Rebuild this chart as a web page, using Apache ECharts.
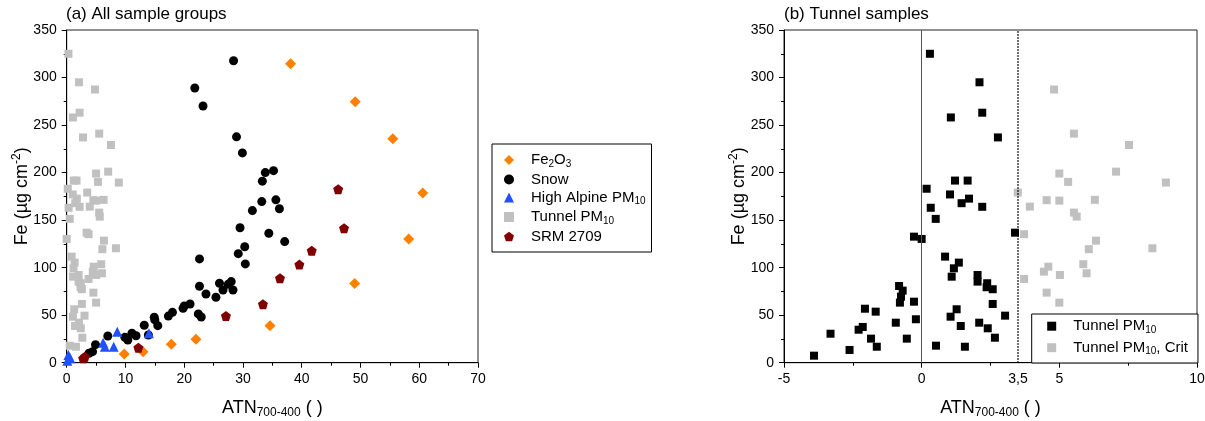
<!DOCTYPE html>
<html>
<head>
<meta charset="utf-8">
<script src="https://cdn.jsdelivr.net/npm/echarts@6/dist/echarts.min.js"></script>
<style>
html,body{margin:0;padding:0;background:#fff;}
#c{width:1205px;height:421px;}
</style>
</head>
<body>
<div id="c"></div>
<script>
// ---------- data ----------
const fe2o3X = [9.8, 13.0, 17.8, 22.0, 34.6, 49.0, 58.2, 60.6, 55.5, 49.1, 38.1];
const fe2o3Y = [9.2, 11.6, 19.3, 24.6, 39.0, 83.2, 130.2, 178.6, 235.5, 274.4, 314.4];

const snowX = [28.4, 21.8, 23.2, 28.9, 29.9, 33.8, 35.2, 33.3, 33.2, 35.6, 36.2, 31.6, 29.5, 34.4, 37.1, 30.3,
  29.2, 22.6, 30.4, 22.6, 23.7, 25.4, 26.0, 26.6, 27.5, 28.0, 28.3, 20.0, 19.8, 21.0, 22.4, 22.9, 18.0, 17.3,
  14.9, 15.0, 15.5, 13.2, 11.1, 11.8, 9.9, 10.4, 13.9, 7.0, 4.9, 4.4, 3.8];
const snowY = [317.6, 289, 270, 237.6, 220.7, 200, 202, 191, 169.5, 171.3, 162, 160, 142, 136.2, 127.4, 122,
  114.7, 109.2, 103.9, 80.4, 72.3, 68.8, 83.6, 76.5, 82.5, 85.3, 76.5, 59.7, 57.2, 61.8, 51.3, 48.1, 53, 49,
  47.8, 45, 39, 39.4, 31, 28.4, 26.7, 23.9, 29.2, 28.1, 19, 11.6, 9.9];

const alpineX = [0.1, 0.3, 0.6, 6.2, 6.5, 8.0, 8.6, 14.0];
const alpineY = [2.0, 8.0, 4.6, 21.0, 16.8, 16.8, 32.6, 30.9];

const srmX = [2.8, 3.1, 12.2, 27.1, 33.4, 36.3, 39.6, 41.7, 47.2, 46.2];
const srmY = [4.6, 6.3, 15.8, 49.2, 61.5, 88.8, 103.2, 117.9, 141.5, 182.5];

// Tunnel PM10 samples (below the ATN criterion)
const tunnelX = [-3.91, -3.31, -2.62, -2.29, -2.14, -2.06, -1.84, -1.63, -1.67, -0.94, -0.82, -0.69, -0.75, -0.79,
  -0.54, -0.28, -0.21, -0.28, 0.0, 0.33, 0.51, 0.18, 0.3, 2.1, 2.2, 1.06, 2.77, 1.21, 1.67, 1.03, 1.72, 1.45,
  2.2, 3.39, 0.85, 1.35, 1.17, 1.09, 2.03, 2.03, 2.38, 2.36, 2.58, 2.58, 1.27, 1.05, 3.03, 1.42, 2.09, 2.40,
  2.66, 0.52, 1.57];
const tunnelY = [7.4, 30.5, 13.4, 34.7, 37.6, 56.8, 25.3, 16.8, 53.7, 42.1, 80.7, 75.8, 69.5, 63.2,
  25.3, 64.2, 45.7, 132.6, 130.2, 163, 151.3, 183, 325, 295, 263, 258, 237, 191.6, 191.6, 177, 172.6, 167.8,
  164, 136.8, 111.6, 105.3, 99.3, 90.5, 92.3, 85.3, 83.6, 79.4, 77.3, 61.8, 56.2, 48.4, 49.5, 38.6, 42.1, 36.2,
  26.3, 17.9, 16.8];
// Tunnel PM10 samples above the criterion
const critX = [3.49, 3.93, 4.54, 4.81, 5.53, 7.53, 5.0, 7.06, 5.32, 8.87, 5.0, 6.29, 5.53, 5.63, 3.72, 6.33,
  6.07, 8.38, 5.87, 5.99, 4.44, 4.6, 5.02, 3.72, 4.54, 5.0];
const critY = [179, 164.2, 171, 287.4, 241, 229, 199, 201, 190.2, 189.5, 170.5, 171.3, 157.9, 153.7, 135.2, 128.4,
  119.4, 120.4, 103.6, 94.1, 95.8, 101, 92.3, 88.1, 73.7, 63.2];

const critLimit = 3.5;

const leftXTicks = {min: 0, max: 70, interval: 10};
const rightXTicks = {min: -5, max: 10, interval: 5};
const yTicks = {min: 0, max: 350, interval: 50};

// ---------- chart ----------
const pair = (xs, ys) => xs.map((x, i) => [x, ys[i]]);
const FONT = '"Liberation Sans", Arial, sans-serif';
const pentagon = 'path://M0,-10 L9.51,-3.09 L5.88,8.09 L-5.88,8.09 L-9.51,-3.09 Z';

const labelRich = {
  g: {width: 12},
  n: {fontSize: 15, lineHeight: 18, color: '#000', fontFamily: FONT},
  s: {fontSize: 10, verticalAlign: 'bottom', color: '#000', fontFamily: FONT}
};
const names = {
  Fe2O3: '{g| }{n|Fe}{s|2}{n|O}{s|3}',
  Snow: '{g| }{n|Snow}',
  HighAlpine: '{g| }{n|High Alpine PM}{s|10}',
  Tunnel: '{g| }{n|Tunnel PM}{s|10}',
  SRM: '{g| }{n|SRM 2709}',
  TunnelB: '{g| }{n|Tunnel PM}{s|10}',
  TunnelCrit: '{g| }{n|Tunnel PM}{s|10}{n|, Crit}'
};

const axisNameRich = {
  a: {fontSize: 18, lineHeight: 22, color: '#000', fontFamily: FONT},
  sub: {fontSize: 12, verticalAlign: 'bottom', color: '#000', fontFamily: FONT},
  sup: {fontSize: 12, verticalAlign: 'top', color: '#000', fontFamily: FONT}
};

function xAxisCfg(idx, ticks) {
  return {
    type: 'value', gridIndex: idx, min: ticks.min, max: ticks.max, interval: ticks.interval,
    name: '{a|ATN}{sub|700-400}{a| ( )}', nameLocation: 'middle', nameGap: 34, nameMoveOverlap: false,
    nameTextStyle: {rich: axisNameRich},
    axisLine: {show: true, onZero: false, lineStyle: {color: '#000', width: 1}},
    axisTick: {show: true, length: 5, lineStyle: {color: '#000'}},
    minorTick: {show: true, splitNumber: 2, length: 3, lineStyle: {color: '#000'}},
    axisLabel: {color: '#000', fontSize: 14, fontFamily: FONT, margin: 9},
    splitLine: {show: false}
  };
}
function yAxisCfg(idx) {
  return {
    type: 'value', gridIndex: idx, min: yTicks.min, max: yTicks.max, interval: yTicks.interval,
    name: '{a|Fe (µg cm}{sup|-2}{a|)}', nameLocation: 'middle', nameGap: 34, nameMoveOverlap: false,
    nameTextStyle: {rich: axisNameRich},
    axisLine: {show: true, onZero: false, lineStyle: {color: '#000', width: 1}},
    axisTick: {show: true, length: 5, lineStyle: {color: '#000'}},
    minorTick: {show: true, splitNumber: 2, length: 3, lineStyle: {color: '#000'}},
    axisLabel: {color: '#000', fontSize: 14, fontFamily: FONT, margin: 10},
    splitLine: {show: false}
  };
}

const chart = echarts.init(document.getElementById('c'), null, {renderer: 'canvas'});
chart.setOption({
  animation: false,
  backgroundColor: '#fff',
  title: [
    {text: '(a) All sample groups', left: 66, top: 6, padding: 0,
     textStyle: {fontSize: 17, fontWeight: 'normal', color: '#000', fontFamily: FONT}},
    {text: '(b) Tunnel samples', left: 784, top: 6, padding: 0,
     textStyle: {fontSize: 17, fontWeight: 'normal', color: '#000', fontFamily: FONT}}
  ],
  grid: [
    {left: 66.7, top: 30, width: 411.3, height: 332.7, show: true, borderColor: '#222', borderWidth: 1,
     containLabel: false, outerBoundsMode: 'none'},
    {left: 784, top: 30, width: 413, height: 332.7, show: true, borderColor: '#222', borderWidth: 1,
     containLabel: false, outerBoundsMode: 'none'}
  ],
  xAxis: [xAxisCfg(0, leftXTicks), xAxisCfg(1, rightXTicks)],
  yAxis: [yAxisCfg(0), yAxisCfg(1)],
  legend: [
    {
      orient: 'vertical', left: 492, top: 144,
      data: ['Fe2O3', 'Snow', 'HighAlpine', 'Tunnel', 'SRM'],
      itemWidth: 10, itemHeight: 10, itemGap: 3,
      padding: [8.5, 6, 8, 12],
      borderColor: '#000', borderWidth: 1, backgroundColor: '#fff',
      formatter: n => names[n],
      textStyle: {rich: labelRich},
      selectedMode: false
    },
    {
      orient: 'vertical', left: 1031.7, top: 314,
      data: ['TunnelB', 'TunnelCrit'],
      itemWidth: 9, itemHeight: 9, itemGap: 5,
      padding: [4.7, 10, 6.3, 15.5],
      borderColor: '#000', borderWidth: 1, backgroundColor: '#fff',
      formatter: n => names[n],
      textStyle: {rich: labelRich},
      selectedMode: false
    }
  ],
  series: [
    {name: 'Tunnel', type: 'scatter', xAxisIndex: 0, yAxisIndex: 0, clip: true,
     data: pair(tunnelX.concat(critX), tunnelY.concat(critY)),
     symbol: 'rect', symbolSize: 8, itemStyle: {color: '#C0C0C0', opacity: 1}},
    {name: 'Fe2O3', type: 'scatter', xAxisIndex: 0, yAxisIndex: 0, clip: true,
     data: pair(fe2o3X, fe2o3Y), symbol: 'diamond', symbolSize: 11, itemStyle: {color: '#FF8000', opacity: 1}},
    {name: 'Snow', type: 'scatter', xAxisIndex: 0, yAxisIndex: 0, clip: true,
     data: pair(snowX, snowY), symbol: 'circle', symbolSize: 9, itemStyle: {color: '#000', opacity: 1}},
    {name: 'HighAlpine', type: 'scatter', xAxisIndex: 0, yAxisIndex: 0, clip: true,
     data: pair(alpineX, alpineY), symbol: 'triangle', symbolSize: 10, itemStyle: {color: '#2050FF', opacity: 1}},
    {name: 'SRM', type: 'scatter', xAxisIndex: 0, yAxisIndex: 0, clip: true,
     data: pair(srmX, srmY), symbol: pentagon, symbolSize: 10, itemStyle: {color: '#800000', opacity: 1}},
    {name: 'TunnelCrit', type: 'scatter', xAxisIndex: 1, yAxisIndex: 1, clip: true,
     data: pair(critX, critY), symbol: 'rect', symbolSize: 8, itemStyle: {color: '#C0C0C0', opacity: 1}},
    {name: 'TunnelB', type: 'scatter', xAxisIndex: 1, yAxisIndex: 1, clip: true,
     data: pair(tunnelX, tunnelY), symbol: 'rect', symbolSize: 8, itemStyle: {color: '#000', opacity: 1},
     markLine: {
       silent: true, symbol: ['none', 'none'],
       data: [
         {xAxis: 0, lineStyle: {type: 'solid', color: '#555', width: 1}, label: {show: false}},
         {xAxis: critLimit, lineStyle: {type: 'dotted', color: '#000', width: 1.5},
          label: {show: true, position: 'start', distance: 9, formatter: String(critLimit).replace('.', ','),
                  color: '#000', fontSize: 14, fontFamily: FONT}}
       ]
     }}
  ]
});
</script>
</body>
</html>
